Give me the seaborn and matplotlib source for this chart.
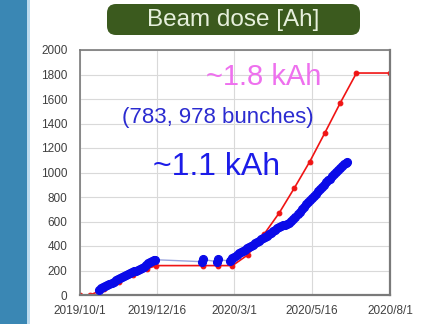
import pandas as pd
import matplotlib
matplotlib.use("Agg")
import matplotlib.pyplot as plt
from matplotlib.patches import FancyBboxPatch, Rectangle
from matplotlib.transforms import IdentityTransform
import seaborn as sns

# Run start; every series below is given as days elapsed since this date
season_start = pd.Timestamp("2019-10-01")

# Planned integrated dose (red)
plan_days = [0, 10, 24, 38, 52, 66, 75, 121, 136, 150, 165, 181, 196, 211,
             226, 241, 256, 272, 305]
plan_ah = [0, 0, 50, 105, 160, 215, 240, 240, 240, 240, 327, 495, 670, 875,
           1088, 1325, 1567, 1812, 1812]

# Delivered integrated dose (blue)
dose_days = [19, 21, 23, 25, 27, 29, 31, 33, 35, 37, 39, 41, 43, 45, 47, 49,
             51, 53, 55, 57, 59, 61, 63, 65, 67, 69, 71, 73, 74,
             120, 121, 135, 136, 148, 149,
             150, 152, 154, 156, 158, 160, 162, 164, 166, 168, 170, 172, 174,
             176, 178, 180, 182, 184, 186, 188, 190, 192, 194, 196, 198, 200,
             202, 204, 206, 208, 210, 212, 214, 216, 218, 220, 222, 224, 226,
             228, 230, 232, 234, 236, 238, 240, 242, 244, 246, 248, 250, 252,
             254, 256, 258, 260, 262, 263]
dose_ah = [40, 55, 65, 75, 85, 92, 100, 110, 120, 128, 138, 148, 155, 162,
           170, 178, 185, 192, 198, 205, 212, 220, 232, 245, 258, 268, 278,
           285, 288,
           272, 290, 272, 290, 275, 288,
           300, 312, 330, 340, 350, 360, 370, 380, 392, 402, 412, 422, 432,
           443, 455, 465, 475, 485, 495, 508, 520, 532, 545, 555, 565, 568,
           572, 578, 585, 602, 620, 640, 660, 680, 700, 720, 740, 758, 775,
           792, 810, 828, 845, 862, 880, 900, 920, 935, 950, 968, 985, 1002,
           1020, 1035, 1050, 1068, 1080, 1088]

tick_dates = ["2019-10-01", "2019-12-16", "2020-03-01", "2020-05-16", "2020-08-01"]
tick_labels = ["2019/10/1", "2019/12/16", "2020/3/1", "2020/5/16", "2020/8/1"]
y_ticks = [0, 200, 400, 600, 800, 1000, 1200, 1400, 1600, 1800, 2000]

sns.set_theme(style="white")
plt.rcParams["font.family"] = ["Liberation Sans", "DejaVu Sans"]

W, H = 423, 324
fig = plt.figure(figsize=(W / 100, H / 100), dpi=100)
fig.patch.set_facecolor("white")

# Slide side strip
fig.add_artist(Rectangle((0, 0), 27 / W, 1, transform=fig.transFigure,
                         color="#3a87b4", lw=0, zorder=0))
fig.add_artist(Rectangle((27 / W, 0), 2.5 / W, 1, transform=fig.transFigure,
                         color="#bcdaee", lw=0, zorder=0))

# Heading badge
fig.add_artist(FancyBboxPatch((107, H - 35), 253, 31,
                              boxstyle="round,pad=0,rounding_size=9",
                              transform=IdentityTransform(),
                              facecolor="#3b5a1e", edgecolor="none", zorder=1))
fig.text(233 / W, 1 - 20 / H, "Beam dose [Ah]", ha="center", va="center",
         fontsize=17.5, color="#e6f0dc", zorder=2)

ax = fig.add_axes([80 / W, 29 / H, 310 / W, 245 / H])
ax.set_facecolor("white")

plan = pd.DataFrame({"date": season_start + pd.to_timedelta(plan_days, unit="D"),
                     "Ah": plan_ah})
dose = pd.DataFrame({"date": season_start + pd.to_timedelta(dose_days, unit="D"),
                     "Ah": dose_ah})

sns.lineplot(data=plan, x="date", y="Ah", estimator=None, sort=False, ax=ax,
             color="#f01414", lw=1.2, marker="o", markersize=3.4,
             markerfacecolor="#f01414", markeredgecolor="#f01414", zorder=2)
sns.lineplot(data=dose, x="date", y="Ah", estimator=None, sort=False, ax=ax,
             color="#98a2dc", lw=1.0, marker="o", markersize=5.8,
             markerfacecolor="#0a0ae8", markeredgecolor="#0a0ae8", zorder=3)

ax.set_xlim(pd.Timestamp(tick_dates[0]), pd.Timestamp(tick_dates[-1]))
ax.set_ylim(0, 2000)
ax.set_xticks(pd.to_datetime(tick_dates))
ax.set_xticklabels(tick_labels)
ax.set_yticks(y_ticks)
ax.set_yticklabels([str(v) for v in y_ticks])
ax.set_xlabel("")
ax.set_ylabel("")
ax.grid(True, color="#d9d9d9", lw=0.8)
ax.set_axisbelow(True)
ax.tick_params(length=0, labelsize=8.5, labelcolor="#404040")
ax.tick_params(axis="y", pad=9)
ax.tick_params(axis="x", pad=7)
for s in ax.spines.values():
    s.set_visible(True)
    s.set_color("#7a7a7a")
    s.set_linewidth(1.2)
ax.spines["right"].set_linewidth(1.6)
ax.spines["bottom"].set_linewidth(1.6)

ax.text(0.594, 0.857, "~1.8 kAh", transform=ax.transAxes, ha="center",
        va="baseline", fontsize=21, color="#ee70ee")
ax.text(0.445, 0.702, "(783, 978 bunches)", transform=ax.transAxes,
        ha="center", va="baseline", fontsize=16, color="#2b2bd0")
ax.text(0.439, 0.49, "~1.1 kAh", transform=ax.transAxes, ha="center",
        va="baseline", fontsize=23, color="#1c1ce8")

fig.savefig("out.png", dpi=100)
